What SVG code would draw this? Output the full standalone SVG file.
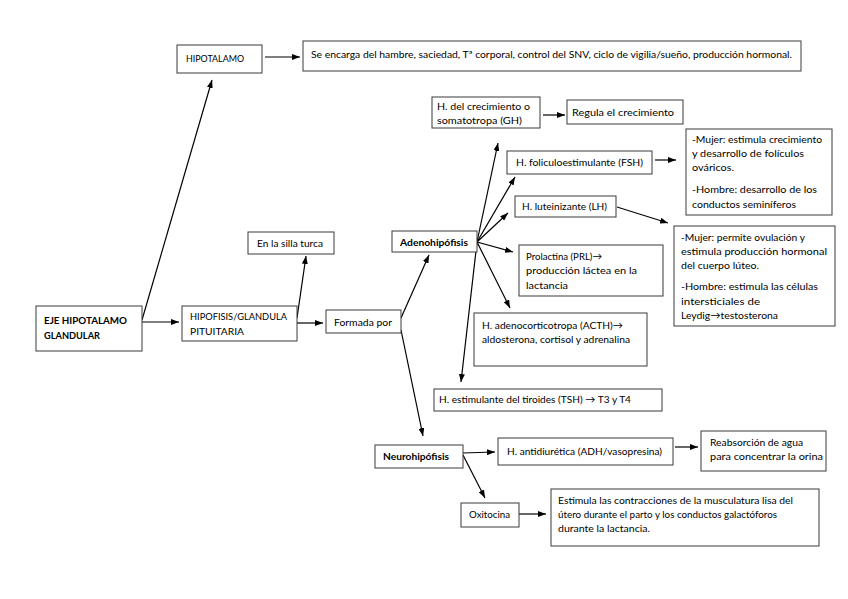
<svg xmlns="http://www.w3.org/2000/svg" width="848" height="599" viewBox="0 0 848 599">
<defs>
<style>
rect{fill:#fff;stroke:#3a3a3a;stroke-width:1}
text{font-family:Lato,"Liberation Sans",Arial,sans-serif;font-size:10px;fill:#000}
.b{font-weight:bold}
#connectors line{stroke:#000;stroke-width:1.2;marker-end:url(#ah)}
</style>
<marker id="ah" markerUnits="userSpaceOnUse" markerWidth="8" markerHeight="6" refX="8" refY="3" orient="auto"><path d="M0,0 L8,3 L0,6 z" fill="#000"/></marker>
</defs>
<rect x="0" y="0" width="848" height="599" style="fill:#fff;stroke:none"/>
<g id="connectors">
<line x1="265" y1="57" x2="300" y2="57"/>
<line x1="142" y1="320" x2="212" y2="80"/>
<line x1="142" y1="322" x2="179" y2="322"/>
<line x1="297" y1="318" x2="306" y2="256"/>
<line x1="297" y1="323" x2="323" y2="323"/>
<line x1="401" y1="318" x2="429" y2="255"/>
<line x1="401" y1="330" x2="423" y2="436"/>
<line x1="477" y1="242" x2="498" y2="143"/>
<line x1="477" y1="242" x2="515" y2="177"/>
<line x1="477" y1="242" x2="508" y2="213"/>
<line x1="477" y1="242" x2="513" y2="252"/>
<line x1="477" y1="242" x2="510" y2="308"/>
<line x1="477" y1="242" x2="461" y2="382"/>
<line x1="543" y1="115" x2="565" y2="115"/>
<line x1="655" y1="160" x2="676" y2="160"/>
<line x1="617" y1="207" x2="668" y2="223"/>
<line x1="463" y1="453" x2="495" y2="452"/>
<line x1="463" y1="455" x2="485" y2="498"/>
<line x1="675" y1="447" x2="698" y2="447"/>
<line x1="519" y1="514" x2="546" y2="514"/>
</g>
<g id="hipotalamo"><rect x="177" y="45" width="85" height="28"/><text x="186" y="62" textLength="58" lengthAdjust="spacingAndGlyphs">HIPOTALAMO</text></g>
<g id="funcion"><rect x="303" y="41" width="498" height="30"/><text x="311" y="58" textLength="481" lengthAdjust="spacingAndGlyphs">Se encarga del hambre, saciedad, Tª corporal, control del SNV, ciclo de vigilia/sueño, producción hormonal.</text></g>
<g id="eje"><rect x="36" y="306" width="106" height="45"/><text class="b" x="44" y="324" textLength="83" lengthAdjust="spacingAndGlyphs">EJE HIPOTALAMO</text><text class="b" x="44" y="339" textLength="56" lengthAdjust="spacingAndGlyphs">GLANDULAR</text></g>
<g id="hipofisis"><rect x="182" y="306" width="115" height="35"/><text x="190" y="320" textLength="97" lengthAdjust="spacingAndGlyphs">HIPOFISIS/GLANDULA</text><text x="190" y="335" textLength="54" lengthAdjust="spacingAndGlyphs">PITUITARIA</text></g>
<g id="silla"><rect x="248" y="232" width="86" height="22"/><text x="257" y="247" textLength="66" lengthAdjust="spacingAndGlyphs">En la silla turca</text></g>
<g id="formada"><rect x="326" y="310" width="75" height="23"/><text x="334" y="326" textLength="58" lengthAdjust="spacingAndGlyphs">Formada por</text></g>
<g id="adeno"><rect x="392" y="231" width="85" height="21"/><text class="b" x="400" y="246" textLength="68" lengthAdjust="spacingAndGlyphs">Adenohipófisis</text></g>
<g id="gh"><rect x="432" y="97" width="108" height="31"/><text x="437" y="110" textLength="93" lengthAdjust="spacingAndGlyphs">H. del crecimiento o</text><text x="437" y="124" textLength="85" lengthAdjust="spacingAndGlyphs">somatotropa (GH)</text></g>
<g id="regula"><rect x="567" y="100" width="116" height="24"/><text x="572" y="116" textLength="102" lengthAdjust="spacingAndGlyphs">Regula el crecimiento</text></g>
<g id="fsh"><rect x="507" y="151" width="145" height="23"/><text x="516" y="166" textLength="127" lengthAdjust="spacingAndGlyphs">H. foliculoestimulante (FSH)</text></g>
<g id="fsh-funcion"><rect x="686" y="129" width="146" height="86"/>
<text x="692" y="143" textLength="130" lengthAdjust="spacingAndGlyphs">-Mujer: estimula crecimiento</text>
<text x="692" y="157" textLength="112" lengthAdjust="spacingAndGlyphs">y desarrollo de folículos</text>
<text x="692" y="171" textLength="42" lengthAdjust="spacingAndGlyphs">ováricos.</text>
<text x="692" y="193" textLength="125" lengthAdjust="spacingAndGlyphs">-Hombre: desarrollo de los</text>
<text x="692" y="208" textLength="104" lengthAdjust="spacingAndGlyphs">conductos seminíferos</text></g>
<g id="lh"><rect x="515" y="196" width="101" height="21"/><text x="522" y="210" textLength="85" lengthAdjust="spacingAndGlyphs">H. luteinizante (LH)</text></g>
<g id="lh-funcion"><rect x="674" y="226" width="161" height="100"/>
<text x="681" y="241" textLength="124" lengthAdjust="spacingAndGlyphs">-Mujer: permite ovulación y</text>
<text x="681" y="255" textLength="146" lengthAdjust="spacingAndGlyphs">estimula producción hormonal</text>
<text x="681" y="269" textLength="78" lengthAdjust="spacingAndGlyphs">del cuerpo lúteo.</text>
<text x="681" y="290" textLength="137" lengthAdjust="spacingAndGlyphs">-Hombre: estimula las células</text>
<text x="681" y="305" textLength="79" lengthAdjust="spacingAndGlyphs">intersticiales de</text>
<text x="681" y="319" textLength="97" lengthAdjust="spacingAndGlyphs">Leydig→testosterona</text></g>
<g id="prl"><rect x="519" y="245" width="144" height="51"/>
<text x="526" y="260" textLength="76" lengthAdjust="spacingAndGlyphs">Prolactina (PRL)→</text>
<text x="526" y="274" textLength="111" lengthAdjust="spacingAndGlyphs">producción láctea en la</text>
<text x="526" y="289" textLength="42" lengthAdjust="spacingAndGlyphs">lactancia</text></g>
<g id="acth"><rect x="474" y="313" width="173" height="53"/>
<text x="482" y="329" textLength="141" lengthAdjust="spacingAndGlyphs">H. adenocorticotropa (ACTH)→</text>
<text x="482" y="343" textLength="148" lengthAdjust="spacingAndGlyphs">aldosterona, cortisol y adrenalina</text></g>
<g id="tsh"><rect x="434" y="389" width="228" height="22"/><text x="439" y="403" textLength="192" lengthAdjust="spacingAndGlyphs">H. estimulante del tiroides (TSH) → T3 y T4</text></g>
<g id="neuro"><rect x="375" y="445" width="88" height="23"/><text class="b" x="383" y="460" textLength="66" lengthAdjust="spacingAndGlyphs">Neurohipófisis</text></g>
<g id="adh"><rect x="498" y="438" width="175" height="27"/><text x="507" y="455" textLength="155" lengthAdjust="spacingAndGlyphs">H. antidiurética (ADH/vasopresina)</text></g>
<g id="reabsorcion"><rect x="701" y="431" width="125" height="40"/>
<text x="710" y="446" textLength="93" lengthAdjust="spacingAndGlyphs">Reabsorción de agua</text>
<text x="710" y="460" textLength="113" lengthAdjust="spacingAndGlyphs">para concentrar la orina</text></g>
<g id="oxitocina"><rect x="461" y="503" width="58" height="24"/><text x="469" y="518" textLength="41" lengthAdjust="spacingAndGlyphs">Oxitocina</text></g>
<g id="oxitocina-funcion"><rect x="551" y="489" width="268" height="57"/>
<text x="558" y="504" textLength="235" lengthAdjust="spacingAndGlyphs">Estimula las contracciones de la musculatura lisa del</text>
<text x="558" y="518" textLength="219" lengthAdjust="spacingAndGlyphs">útero durante el parto y los conductos galactóforos</text>
<text x="558" y="532" textLength="92" lengthAdjust="spacingAndGlyphs">durante la lactancia.</text></g>
</svg>
